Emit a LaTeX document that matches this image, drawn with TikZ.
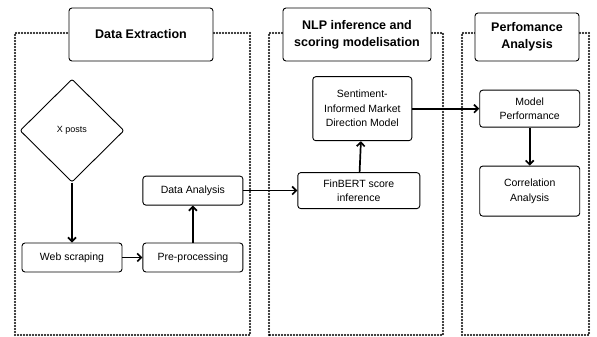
\documentclass[tikz,border=0pt]{standalone}
\usepackage{fontspec}
\setmainfont{Liberation Sans}
\usetikzlibrary{arrows.meta,
                positioning,
                shapes.geometric}

\begin{document}
\begin{tikzpicture}[
        x=1pt, y=1pt,
        every node/.style={align=center, font=\fontsize{10.5}{14.5}\selectfont},
        stepbox/.style={draw, rounded corners=3pt, line width=0.9pt, fill=white, inner sep=2pt, minimum width=100pt},
        titlebox/.style={stepbox, font=\fontsize{12.5}{17}\selectfont\bfseries},
        stageframe/.style={line width=2.4pt, line cap=round, dash pattern=on 0pt off 3pt},
        flow/.style={-{Straight Barb[length=4pt,width=8pt]}, line width=1.7pt}
        ]
        \useasboundingbox (0,0) rectangle (597,337);

        % Frames
        \draw[stageframe] (15,2) rectangle (250,304);
        \draw[stageframe] (269,2) rectangle (443,304);
        \draw[stageframe] (462,2) rectangle (589,304);

        % Nodes
        \node[titlebox, minimum width=144pt, minimum height=53pt] (textract) at (141,302.5) {Data Extraction};
        \node[titlebox, minimum width=148pt, minimum height=53pt] (tnlp) at (357,302.5) {NLP inference and\\scoring modelisation};
        \node[titlebox, minimum width=104pt, minimum height=48pt] (tperf) at (527,300) {Perfomance\\Analysis};

        \node[stepbox, minimum height=29pt] (web) at (72,79.5) {Web scraping};
        \node[stepbox, minimum height=29pt, right=20pt of web] (prep) {Pre-processing};
        \node[stepbox, minimum height=29pt, above=37pt of prep] (analysis) {Data Analysis};
        \node[draw, diamond, rounded corners=2pt, line width=0.9pt, minimum width=104pt, minimum height=103pt, inner sep=0pt, font=\fontsize{9}{11}\selectfont, above=60pt of web] (xposts) {X posts};

        \node[stepbox, minimum width=122pt, minimum height=36pt, right=54pt of analysis] (finbert) {FinBERT score\\inference};
        \node[stepbox, minimum width=99pt, minimum height=64pt, above=31pt of finbert, xshift=3.5pt] (sentiment) {Sentiment-\\Informed Market\\Direction Model};
        \node[stepbox, minimum height=37pt, right=67pt of sentiment] (modelperf) {Model\\Performance};
        \node[stepbox, minimum height=50pt, below=38pt of modelperf] (correlation) {Correlation\\Analysis};

        % Arrows
        \draw[flow] (xposts) -- (web);
        \draw[flow] (web) -- (prep);
        \draw[flow] (prep) -- (analysis);
        \draw[flow] (analysis) -- (finbert);
        \draw[flow] (finbert) -- (sentiment);
        \draw[flow] (sentiment) -- (modelperf);
        \draw[flow] (modelperf) -- (correlation);

\end{tikzpicture}
\end{document}
